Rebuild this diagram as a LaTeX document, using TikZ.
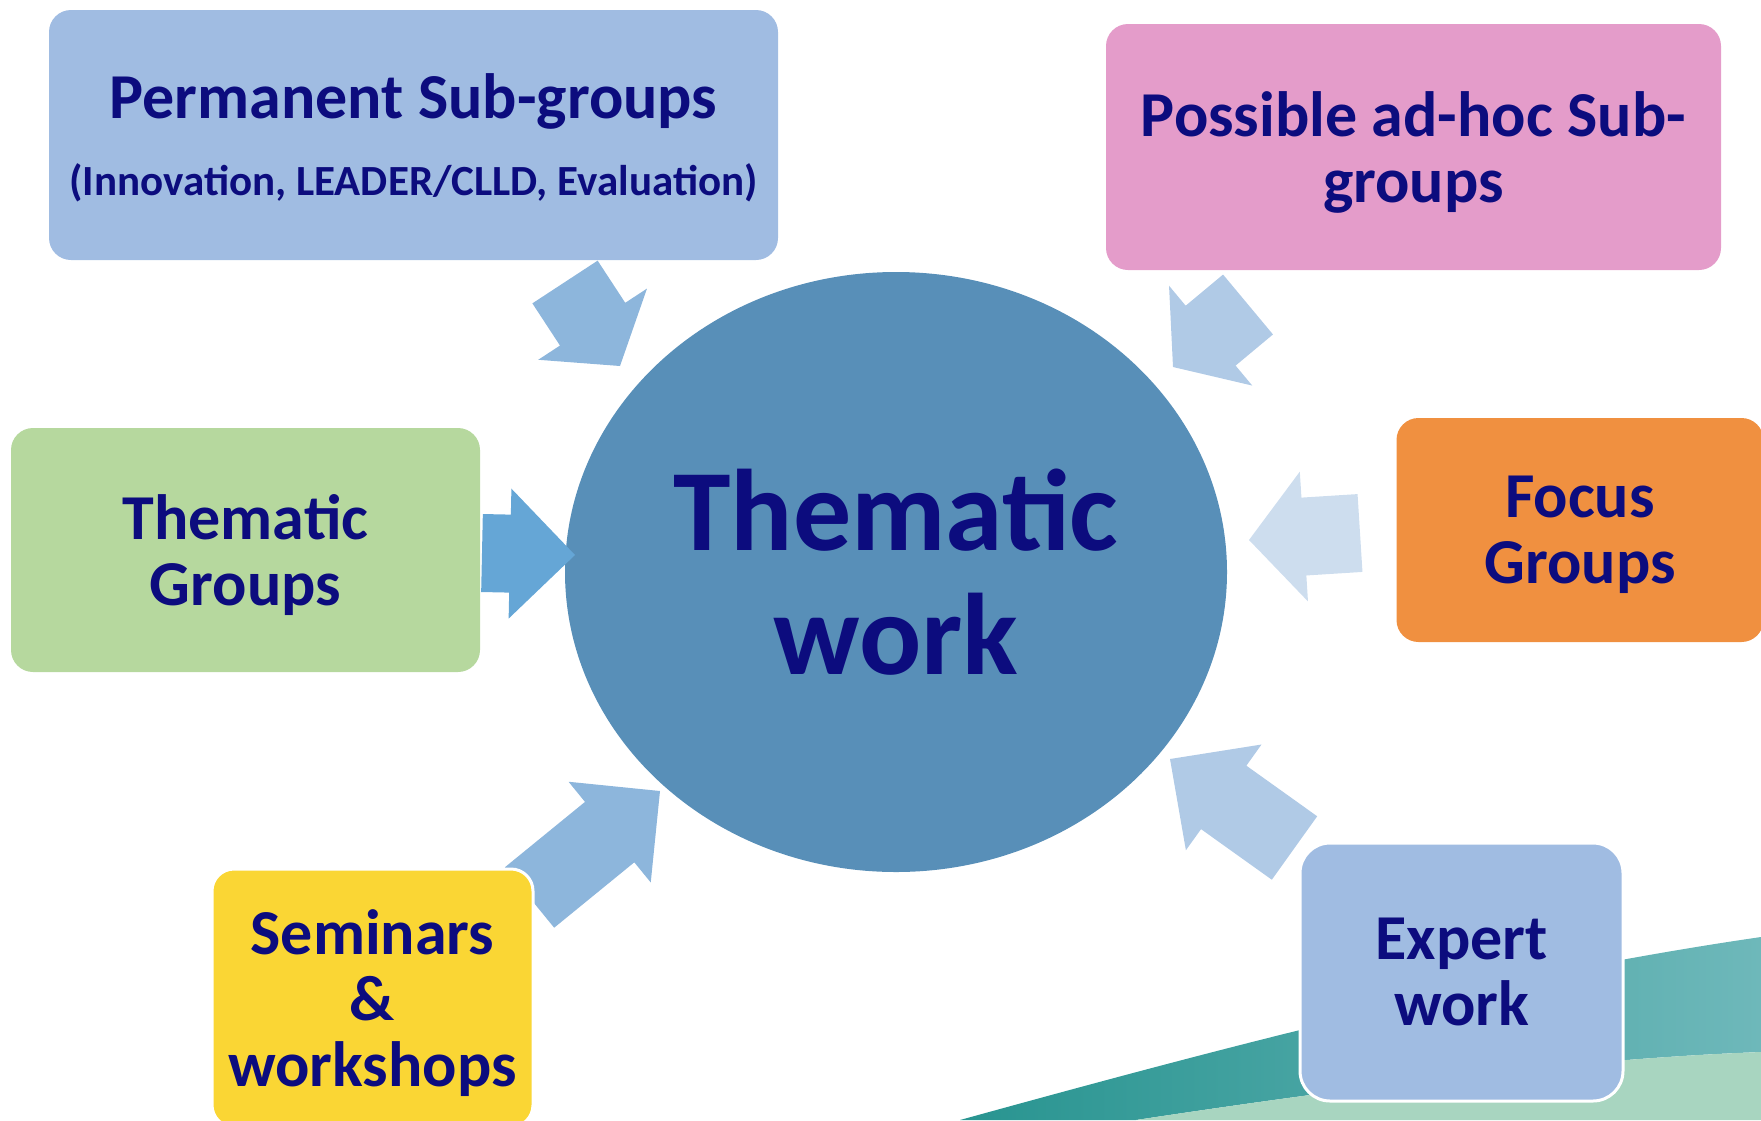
\documentclass[tikz,border=0pt]{standalone}
\usepackage{fontspec}
\setmainfont{Carlito}
\usetikzlibrary{calc,shapes.geometric}

\definecolor{navytext}{RGB}{12,12,126}
\definecolor{ellblue}{RGB}{88,143,184}
\definecolor{boxblue}{RGB}{160,188,226}
\definecolor{boxpink}{RGB}{228,156,202}
\definecolor{boxgreen}{RGB}{182,216,158}
\definecolor{boxorange}{RGB}{240,144,64}
\definecolor{boxyellow}{RGB}{250,214,52}
\definecolor{arrmid}{RGB}{141,182,220}
\definecolor{arrlight}{RGB}{176,202,230}
\definecolor{arrpale}{RGB}{205,221,238}
\definecolor{arrdark}{RGB}{101,166,214}
\definecolor{tealdark}{RGB}{40,148,144}
\definecolor{teallight}{RGB}{110,184,186}
\definecolor{seagreen}{RGB}{168,213,192}

% block arrow: colour, tail centre, tip, head length
\newcommand{\blockarrow}[4]{%
	\coordinate (hd) at ($(#3)!#4pt!(#2)$);
	\fill [#1] ($(#2)!39pt!90:(#3)$) -- ($(hd)!39pt!90:(#3)$) -- ($(hd)!65pt!90:(#3)$) -- (#3)
		-- ($(hd)!65pt!-90:(#3)$) -- ($(hd)!39pt!-90:(#3)$) -- ($(#2)!39pt!-90:(#3)$) -- cycle;
}

\tikzset{
	box/.style = {rectangle, rounded corners = 22pt, inner sep = 0pt, align = center, text depth = 0pt,
		text = navytext, font = \fontsize{64}{66}\selectfont\bfseries},
	edged/.style = {draw = white, line width = 3pt}
}

\begin{document}
\begin{tikzpicture}[x = 1pt, y = -1pt]

\useasboundingbox (0, 0) rectangle (1761, 1120);
\clip (0, 0) rectangle (1761, 1120);

% swoosh
\shade [left color = tealdark, right color = teallight]
	(960, 1120) .. controls (1250, 1040) and (1500, 975) .. (1761, 937)
	-- (1761, 1052) .. controls (1600, 1058) and (1400, 1080) .. (1136, 1120) -- cycle;
\fill [seagreen] (1136, 1120) .. controls (1400, 1080) and (1600, 1058) .. (1761, 1052)
	-- (1761, 1120) -- cycle;

\node [ellipse, fill = ellblue, minimum width = 662pt, minimum height = 600pt, inner sep = 0pt,
	align = center, text = navytext, font = \fontsize{116}{124}\selectfont\bfseries]
	(work) at (896, 572) {Thematic\\work};

\coordinate (tail1) at (565, 282);    \coordinate (tip1) at (620, 366);
\coordinate (tail2) at (1248, 304.5); \coordinate (tip2) at (1173, 367);
\coordinate (tail3) at (482, 553);    \coordinate (tip3) at (575, 555);
\coordinate (tail4) at (1360, 533);   \coordinate (tip4) at (1249, 540);
\coordinate (tail5) at (529.5, 897.5); \coordinate (tip5) at (660, 791);
\coordinate (tail6) at (1294.5, 848); \coordinate (tip6) at (1170, 759);

\blockarrow{arrmid}{tail1}{tip1}{50}
\blockarrow{arrlight}{tail2}{tip2}{49}
\blockarrow{arrdark}{tail3}{tip3}{65}
\blockarrow{arrpale}{tail4}{tip4}{55}
\blockarrow{arrmid}{tail5}{tip5}{65}
\blockarrow{arrlight}{tail6}{tip6}{66}

\node [box, fill = boxblue, minimum width = 729pt, minimum height = 250pt,
	font = \fontsize{64}{77}\selectfont\bfseries] (perm) at (413.5, 135)
	{Permanent Sub-groups\\{\fontsize{43}{77}\selectfont(Innovation, LEADER/CLLD, Evaluation)}};
\node [box, fill = boxpink, minimum width = 615pt, minimum height = 246pt]
	(adhoc) at (1413.5, 147) {Possible ad-hoc Sub-\\groups};
\node [box, fill = boxgreen, minimum width = 469pt, minimum height = 244pt]
	(tgroups) at (245.5, 550) {Thematic\\Groups};
\node [box, fill = boxorange, minimum width = 367pt, minimum height = 224pt]
	(focus) at (1580, 530) {Focus\\Groups};
\node [box, edged, fill = boxyellow, minimum width = 321pt, minimum height = 258pt]
	(seminars) at (372.5, 998) {Seminars\\\&\\workshops};
\node [box, edged, fill = boxblue, rounded corners = 30pt, minimum width = 323pt, minimum height = 258pt]
	(expert) at (1461.5, 972) {Expert\\work};

\end{tikzpicture}
\end{document}
